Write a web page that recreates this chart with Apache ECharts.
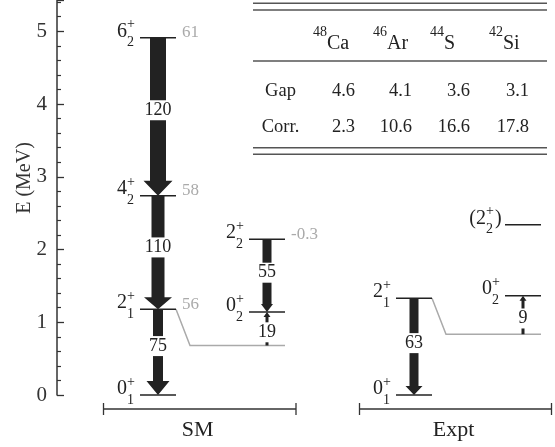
<!DOCTYPE html>
<html><head><meta charset="utf-8">
<script src="https://cdn.jsdelivr.net/npm/echarts@6/dist/echarts.min.js"></script>
<style>html,body{margin:0;padding:0;background:#fff}#c{width:555px;height:447px}</style>
</head><body><div id="c"></div>
<script>
// ---- data ----
const colNames = ['SM-a', 'SM-b', 'Expt-a', 'Expt-b'];
const levelJ = ['0', '2', '4', '6', '0', '2', '0', '2', '0', '2'];
const levelN = ['1', '1', '2', '2', '2', '2', '1', '1', '2', '2'];
const levelCol = [0, 0, 0, 0, 1, 1, 2, 2, 3, 3];
const levelE = [0, 1.18, 2.74, 4.91, 1.14, 2.14, 0, 1.33, 1.365, 2.34];
const levelTentative = [false, false, false, false, false, false, false, false, false, true];
const levelQ = ['', '56', '58', '61', '', '-0.3', '', '', '', ''];
// transitions (level indices; -1 = mixing line)
const transFrom = [3, 2, 1, 5, -1, 7, -1];
const transTo = [2, 1, 0, 4, 4, 6, 8];
const transVal = ['120', '110', '75', '55', '19', '63', '9'];
const transCol = [0, 0, 0, 1, 1, 2, 3];
// gray mixing lines: from column (2+ level) to neighbouring column
const mixFromLevel = [1, 7];
const mixToCol = [1, 3];
const mixE = [0.68, 0.835];
// table
const tabMass = ['48', '46', '44', '42'];
const tabSym = ['Ca', 'Ar', 'S', 'Si'];
const tabGap = ['4.6', '4.1', '3.6', '3.1'];
const tabCorr = ['2.3', '10.6', '16.6', '17.8'];
const groupNames = ['SM', 'Expt'];
const yTicks = [0, 1, 2, 3, 4, 5];

// ---- layout / style ----
const colX = [101, 210, 357, 466];      // column centres in x-axis units (grid px)
const halfW = 18;
const arrowBody = [16, 13, 10, 9, 3, 9, 3];
const arrowHeadW = [29, 28, 23, 12, 7, 17, 7];
const arrowHeadL = [15, 12, 14, 8, 5, 9, 5];
const SERIF = '"Liberation Serif", "DejaVu Serif", serif';
const INK = '#222';
const GRAY = '#aaa';

const chart = echarts.init(document.getElementById('c'));

function levelItems(api, i) {
  const c = colX[levelCol[i]];
  const p1 = api.coord([c - halfW, levelE[i]]);
  const p2 = api.coord([c + halfW, levelE[i]]);
  const y = p1[1];
  const left = p1[0];
  const els = [{type: 'line', shape: {x1: p1[0], y1: y, x2: p2[0], y2: y}, style: {stroke: INK, lineWidth: 1.5}}];
  const off = levelTentative[i] ? 19 : 13;
  const base = levelTentative[i] ? '(' + levelJ[i] : levelJ[i];
  els.push({type: 'text', style: {text: base, x: left - off, y: y - 6.5, align: 'right', verticalAlign: 'middle', font: '20px ' + SERIF, fill: INK}});
  els.push({type: 'text', style: {text: '+', x: left - off, y: y - 13, align: 'left', verticalAlign: 'middle', font: '14px ' + SERIF, fill: INK}});
  els.push({type: 'text', style: {text: levelN[i], x: left - off, y: y + 5, align: 'left', verticalAlign: 'middle', font: '14px ' + SERIF, fill: INK}});
  if (levelTentative[i]) {
    els.push({type: 'text', style: {text: ')', x: left - 10, y: y - 6.5, align: 'left', verticalAlign: 'middle', font: '20px ' + SERIF, fill: INK}});
  }
  if (levelQ[i]) {
    els.push({type: 'text', style: {text: levelQ[i], x: p2[0] + 6, y: y - 5, align: 'left', verticalAlign: 'middle', font: '17px ' + SERIF, fill: GRAY}});
  }
  return els;
}

function mixE_of(col) { const k = mixToCol.indexOf(col); return k >= 0 ? mixE[k] : null; }

function arrowItems(api, k) {
  const c = colX[transCol[k]];
  const eFrom = transFrom[k] >= 0 ? levelE[transFrom[k]] : mixE_of(transCol[k]);
  const eTo = levelE[transTo[k]];
  const a = api.coord([c, eFrom]);
  const b = api.coord([c, eTo]);
  const x = a[0];
  const dir = b[1] > a[1] ? 1 : -1; // 1 = downward on screen
  const hl = arrowHeadL[k], hw = arrowHeadW[k] / 2, bw = arrowBody[k] / 2;
  const yNeck = b[1] - dir * hl;
  const pts = [[x - bw, a[1]], [x + bw, a[1]], [x + bw, yNeck], [x + hw, yNeck], [x, b[1]], [x - hw, yNeck], [x - bw, yNeck]];
  const els = [{type: 'polygon', shape: {points: pts}, style: {fill: INK}}];
  const ym = (a[1] + yNeck) / 2;
  els.push({type: 'text', style: {text: transVal[k], x: x, y: ym + 1, align: 'center', verticalAlign: 'middle', font: '18px ' + SERIF, fill: INK, backgroundColor: '#fff', padding: [1, 1]}});
  return els;
}

function mixItems(api, k) {
  const i = mixFromLevel[k];
  const c0 = colX[levelCol[i]];
  const c1 = colX[mixToCol[k]];
  const p0 = api.coord([c0 + halfW, levelE[i]]);
  const p1 = api.coord([c0 + halfW + 14, mixE[k]]);
  const p2 = api.coord([c1 + halfW, mixE[k]]);
  return [{type: 'polyline', shape: {points: [p0, p1, p2]}, style: {stroke: GRAY, lineWidth: 1.5, fill: null}}];
}

// graphic: table, group brackets, axis name
const graphic = [];
const tL = 253, tR = 547;
[3.3, 10, 61, 147.7, 154.3].forEach(y => graphic.push({type: 'line', shape: {x1: tL, y1: y, x2: tR, y2: y}, style: {stroke: '#555', lineWidth: 1.5}}));
const symLeft = [327, 387, 444, 503];
const numRight = [355, 412, 470, 529];
tabSym.forEach((s, j) => {
  graphic.push({type: 'text', style: {text: s, x: symLeft[j], y: 44, align: 'left', verticalAlign: 'middle', font: '20px ' + SERIF, fill: INK}});
  graphic.push({type: 'text', style: {text: tabMass[j], x: symLeft[j], y: 32, align: 'right', verticalAlign: 'middle', font: '14px ' + SERIF, fill: INK}});
  graphic.push({type: 'text', style: {text: tabGap[j], x: numRight[j], y: 91, align: 'right', verticalAlign: 'middle', font: '18.5px ' + SERIF, fill: INK}});
  graphic.push({type: 'text', style: {text: tabCorr[j], x: numRight[j], y: 127.5, align: 'right', verticalAlign: 'middle', font: '18.5px ' + SERIF, fill: INK}});
});
graphic.push({type: 'text', style: {text: 'Gap', x: 280.5, y: 91, align: 'center', verticalAlign: 'middle', font: '18.5px ' + SERIF, fill: INK}});
graphic.push({type: 'text', style: {text: 'Corr.', x: 280.5, y: 127.5, align: 'center', verticalAlign: 'middle', font: '18.5px ' + SERIF, fill: INK}});
const brackets = [[103.5, 296], [359.5, 551.5]];
brackets.forEach((br, g) => {
  graphic.push({type: 'line', shape: {x1: br[0], y1: 409, x2: br[1], y2: 409}, style: {stroke: '#333', lineWidth: 1.3}});
  graphic.push({type: 'line', shape: {x1: br[0], y1: 403, x2: br[0], y2: 415}, style: {stroke: '#333', lineWidth: 1.3}});
  graphic.push({type: 'line', shape: {x1: br[1], y1: 403, x2: br[1], y2: 415}, style: {stroke: '#333', lineWidth: 1.3}});
  graphic.push({type: 'text', style: {text: groupNames[g], x: (br[0] + br[1]) / 2 - 2, y: 430, align: 'center', verticalAlign: 'middle', font: '22px ' + SERIF, fill: INK}});
});
graphic.push({type: 'text', rotation: Math.PI / 2, x: 25, y: 178, style: {text: 'E (MeV)', x: 0, y: 0, align: 'center', verticalAlign: 'middle', font: '20px ' + SERIF, fill: '#333'}});

chart.setOption({
  animation: false,
  grid: {left: 57, right: 0, top: 0, bottom: 52},
  xAxis: {type: 'value', min: 0, max: 498, show: false},
  yAxis: {
    type: 'value', min: 0, max: 5.43, interval: 1,
    axisLine: {show: true, lineStyle: {color: '#333', width: 1.5}},
    axisTick: {show: true, inside: true, length: 7, lineStyle: {color: '#333', width: 1.3}},
    minorTick: {show: true, splitNumber: 5, length: 4, lineStyle: {color: '#333', width: 1.2}},
    splitLine: {show: false},
    axisLabel: {margin: 10, fontSize: 21, fontFamily: SERIF, color: '#333',
      formatter: v => (yTicks.indexOf(v) >= 0 ? String(v) : '')}
  },
  graphic: graphic,
  series: [
    {type: 'custom', clip: false, data: mixE.map((e, k) => [colX[mixToCol[k]], e]),
      renderItem: (p, api) => ({type: 'group', children: mixItems(api, p.dataIndex)})},
    {type: 'custom', clip: false, data: transVal.map((v, k) => [colX[transCol[k]], levelE[transTo[k]]]),
      renderItem: (p, api) => ({type: 'group', children: arrowItems(api, p.dataIndex)})},
    {type: 'custom', clip: false, data: levelE.map((e, i) => [colX[levelCol[i]], e]),
      renderItem: (p, api) => ({type: 'group', children: levelItems(api, p.dataIndex)})}
  ]
});
</script></body></html>
